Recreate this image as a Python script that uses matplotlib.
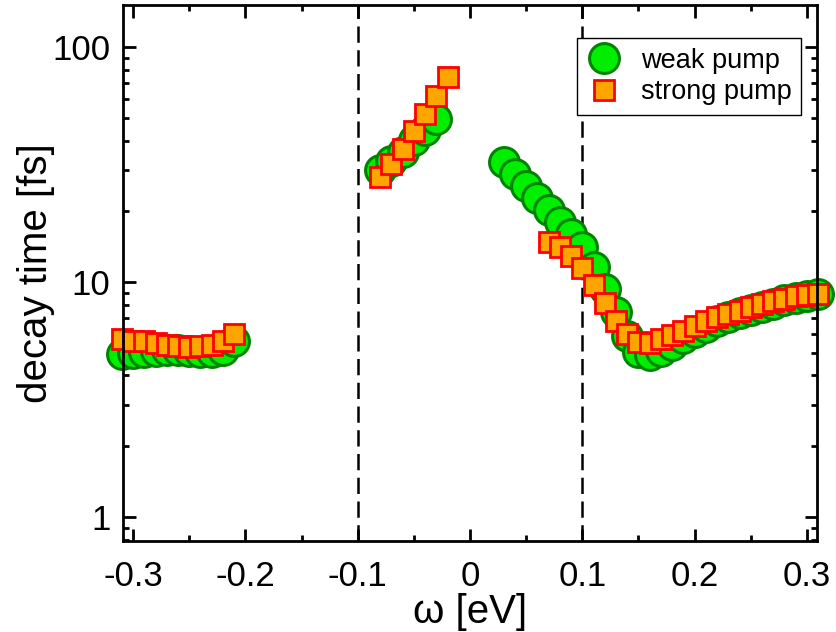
import matplotlib
matplotlib.use("Agg")
import matplotlib.pyplot as plt
from matplotlib.ticker import FixedLocator, FixedFormatter, LogLocator, NullFormatter

# ---- data ----
weak_x = [-0.31, -0.30, -0.29, -0.28, -0.27, -0.26, -0.25, -0.24, -0.23, -0.22, -0.21,
          -0.08, -0.07, -0.06, -0.05, -0.04, -0.03,
          0.03, 0.04, 0.05, 0.06, 0.07, 0.08, 0.09, 0.10, 0.11, 0.12, 0.13, 0.14, 0.15,
          0.16, 0.17, 0.18, 0.19, 0.20, 0.21, 0.22, 0.23, 0.24, 0.25, 0.26, 0.27, 0.28,
          0.29, 0.30, 0.31]
weak_y = [4.95, 5.0, 5.05, 5.1, 5.15, 5.15, 5.1, 5.05, 5.05, 5.15, 5.6,
          30.0, 32.6, 35.9, 40.1, 44.2, 49.2,
          32.4, 28.8, 25.6, 22.8, 20.2, 18.0, 16.0, 14.1, 11.6, 9.34, 7.46, 5.9, 5.05,
          4.9, 5.1, 5.4, 5.75, 6.1, 6.45, 6.8, 7.1, 7.35, 7.6, 7.85, 8.1, 8.35,
          8.55, 8.7, 8.85]

strong_x = [-0.31, -0.30, -0.29, -0.28, -0.27, -0.26, -0.25, -0.24, -0.23, -0.22, -0.21,
            -0.08, -0.07, -0.06, -0.05, -0.04, -0.03, -0.02,
            0.07, 0.08, 0.09, 0.10, 0.11, 0.12, 0.13, 0.14, 0.15,
            0.16, 0.17, 0.18, 0.19, 0.20, 0.21, 0.22, 0.23, 0.24, 0.25, 0.26, 0.27, 0.28,
            0.29, 0.30, 0.31]
strong_y = [5.73, 5.62, 5.62, 5.51, 5.40, 5.35, 5.30, 5.35, 5.40, 5.62, 6.0,
            27.9, 31.9, 37.0, 43.8, 51.9, 61.8, 74.2,
            14.8, 14.1, 12.9, 11.5, 9.7, 8.15, 6.83, 6.0, 5.56,
            5.5, 5.7, 5.95, 6.2, 6.5, 6.83, 7.1, 7.3, 7.5, 7.8, 8.05, 8.3, 8.5,
            8.7, 8.8, 8.9]

vlines_x = [-0.1, 0.1]
xticks = [-0.3, -0.2, -0.1, 0.0, 0.1, 0.2, 0.3]
xtick_labels = ["-0.3", "-0.2", "-0.1", "0", "0.1", "0.2", "0.3"]
yticks = [1, 10, 100]
ytick_labels = ["1", "10", "100"]

plt.rcParams['font.family'] = ['Liberation Sans', 'DejaVu Sans']

fig = plt.figure(figsize=(8.37, 6.32), dpi=100)
ax = fig.add_axes([123/837, 1 - 541/632, (817 - 123)/837, (541 - 5)/632])

for xv in vlines_x:
    ln = ax.axvline(xv, color='black', lw=1.8, zorder=1)
    ln.set_dashes([6.5, 3])

ax.plot(weak_x, weak_y, linestyle='none', marker='o', markersize=21.5,
        markerfacecolor='#00ee00', markeredgecolor='#008400', markeredgewidth=2.2,
        label='weak pump', zorder=2, clip_on=False)
ax.plot(strong_x, strong_y, linestyle='none', marker='s', markersize=14.5,
        markerfacecolor='#ffa500', markeredgecolor='#ff0000', markeredgewidth=2.0,
        label='strong pump', zorder=3, clip_on=False)

ax.set_yscale('log')
ax.set_xlim(-0.309, 0.309)
ax.set_ylim(0.79, 151)

ax.xaxis.set_major_locator(FixedLocator(xticks))
ax.xaxis.set_major_formatter(FixedFormatter(xtick_labels))
ax.xaxis.set_minor_locator(FixedLocator([-0.25, -0.15, -0.05, 0.05, 0.15, 0.25]))
ax.yaxis.set_major_locator(FixedLocator(yticks))
ax.yaxis.set_major_formatter(FixedFormatter(ytick_labels))
ax.yaxis.set_minor_locator(LogLocator(base=10, subs=range(2, 10)))
ax.yaxis.set_minor_formatter(NullFormatter())

ax.tick_params(which='both', direction='in', top=True, right=True, width=2, color='black')
ax.tick_params(which='major', length=9, labelsize=25)
ax.tick_params(which='minor', length=4.5)
ax.tick_params(axis='x', which='major', pad=14)
ax.tick_params(axis='y', which='major', pad=9)

for s in ax.spines.values():
    s.set_linewidth(2)
    s.set_zorder(5)

ax.set_xlabel('ω [eV]', fontsize=29, labelpad=0)
ax.set_ylabel('decay time [fs]', fontsize=29, labelpad=-2)

leg = ax.legend(loc='upper right', bbox_to_anchor=(0.977, 0.938), fontsize=19.5,
                frameon=True, fancybox=False, framealpha=1, edgecolor='black',
                borderpad=0.35, handletextpad=0.7, labelspacing=0.2, handlelength=1.3,
                borderaxespad=0)
leg.get_frame().set_linewidth(1.0)
leg.set_zorder(6)

fig.savefig('out.png', dpi=100)
